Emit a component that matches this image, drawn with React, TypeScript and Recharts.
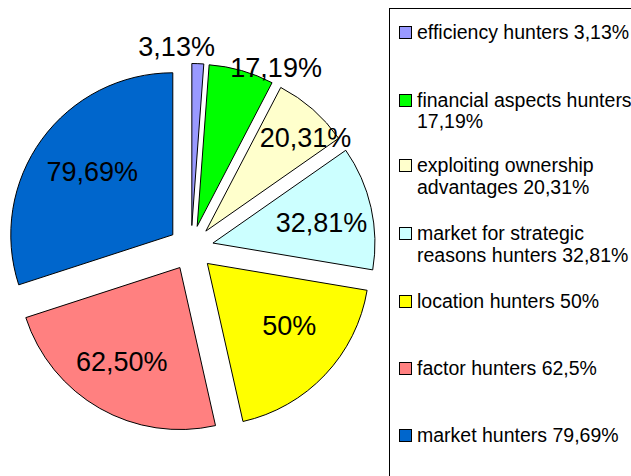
import React from 'react';
import { PieChart, Pie, Legend, Sector } from 'recharts';

const categories = [
  'efficiency hunters',
  'financial aspects hunters',
  'exploiting ownership advantages',
  'market for strategic reasons hunters',
  'location hunters',
  'factor hunters',
  'market hunters',
];
const values = [3.13, 17.19, 20.31, 32.81, 50, 62.5, 79.69];
const sliceLabels = ['3,13%', '17,19%', '20,31%', '32,81%', '50%', '62,50%', '79,69%'];
const legendLabels = [
  'efficiency hunters 3,13%',
  'financial aspects hunters\n17,19%',
  'exploiting ownership\nadvantages 20,31%',
  'market for strategic\nreasons hunters 32,81%',
  'location hunters 50%',
  'factor hunters 62,5%',
  'market hunters 79,69%',
];
const colors = ['#9999FF', '#00FF00', '#FFFFCC', '#CCFFFF', '#FFFF00', '#FF8080', '#0066CC'];

const data = categories.map((name, i) => ({ name, value: values[i] }));

// layout constants (not data)
const FONT = '"Liberation Sans", Arial, Helvetica, sans-serif';
const EXPLODE = 22.5;
const RAD = Math.PI / 180;
const labelRadius = [202, 200, 159, 133, 125, 133, 125];
const labelAngleShift = [6.2, -9.3, -4.8, -1.7, 5.2, -1.7, -1.8];
const legendSquareCenters = [32, 100, 165, 233, 301, 368, 435];
const legendLineHeights = [21, 21, 22, 22, 21, 21, 21];
const LEGEND_LEFT = 389;
const LEGEND_TOP = 8;

const renderSlice = (p: any) => {
  const { cx, cy, innerRadius, outerRadius, startAngle, endAngle, midAngle, index } = p;
  const dx = EXPLODE * Math.cos(-midAngle * RAD);
  const dy = EXPLODE * Math.sin(-midAngle * RAD);
  return (
    <Sector
      key={`s-${index}`}
      cx={cx + dx}
      cy={cy + dy}
      innerRadius={innerRadius}
      outerRadius={outerRadius}
      startAngle={startAngle}
      endAngle={endAngle}
      fill={colors[index]}
      stroke="#000"
      strokeWidth={1}
    />
  );
};

const renderText = (p: any) => {
  const { cx, cy, midAngle, index } = p;
  const a = (midAngle + labelAngleShift[index]) * RAD;
  const r = labelRadius[index];
  const x = cx + r * Math.cos(-a);
  const y = cy + r * Math.sin(-a);
  const fs = 27;
  return (
    <text
      key={`t-${index}`}
      x={x}
      y={y + 0.36 * fs}
      textAnchor="middle"
      fontFamily={FONT}
      fontSize={fs}
      fill="#000"
    >
      {sliceLabels[index]}
    </text>
  );
};

const renderLegend = (props: any) => {
  const seen = new Set<string>();
  const items = (props.payload || []).filter((it: any) => {
    if (seen.has(it.value)) return false;
    seen.add(it.value);
    return true;
  });
  return (
    <div
      style={{
        position: 'absolute',
        left: 0,
        top: 0,
        width: 260,
        height: 480,
        border: '1px solid #000',
        boxSizing: 'border-box',
        background: '#fff',
        fontFamily: FONT,
        fontSize: 19.5,
        color: '#000',
      }}
    >
      {items.map((it: any) => {
        const idx = categories.indexOf(it.value);
        if (idx < 0) return null;
        const lh = legendLineHeights[idx];
        const top = legendSquareCenters[idx] - LEGEND_TOP - 1 - lh / 2;
        return (
          <div
            key={it.value}
            style={{ position: 'absolute', left: 9, top, display: 'flex', alignItems: 'flex-start' }}
          >
            <div
              style={{
                width: 13,
                height: 13,
                marginTop: (lh - 13) / 2,
                background: colors[idx],
                border: '1px solid #000',
                boxSizing: 'border-box',
                flex: 'none',
              }}
            />
            <div style={{ marginLeft: 5, whiteSpace: 'pre', lineHeight: `${lh}px` }}>
              {legendLabels[idx]}
            </div>
          </div>
        );
      })}
    </div>
  );
};

export default function App() {
  return (
    <div
      style={{
        position: 'absolute',
        left: 0,
        top: 0,
        width: 631,
        height: 476,
        overflow: 'hidden',
        background: '#fff',
      }}
    >
      <PieChart width={631} height={476} margin={{ top: 0, right: 0, bottom: 0, left: 0 }}>
        <Pie
          data={data}
          dataKey="value"
          nameKey="name"
          cx={191}
          cy={248}
          outerRadius={162}
          startAngle={90}
          endAngle={-270}
          fill="transparent"
          stroke="none"
          label={renderSlice}
          labelLine={false}
          isAnimationActive={false}
        />
        <Pie
          data={data}
          dataKey="value"
          nameKey="name"
          cx={191}
          cy={248}
          outerRadius={162}
          startAngle={90}
          endAngle={-270}
          fill="transparent"
          stroke="none"
          label={renderText}
          labelLine={false}
          legendType="none"
          isAnimationActive={false}
        />
        <Legend
          content={renderLegend}
          wrapperStyle={{ position: 'absolute', left: LEGEND_LEFT, top: LEGEND_TOP, width: 0, height: 0 }}
        />
      </PieChart>
    </div>
  );
}
